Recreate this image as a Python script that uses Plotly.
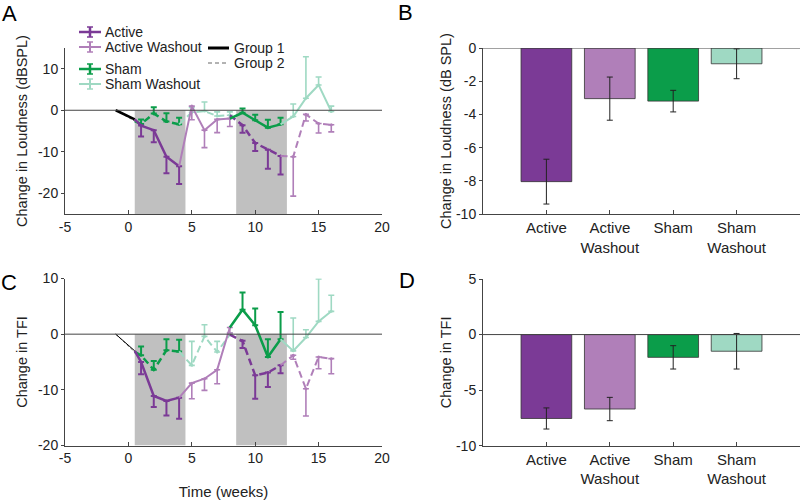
import plotly.graph_objects as go

# ---------------- data ----------------
weeks_p1 = [1, 2, 3, 4]
weeks_p2 = [5, 6, 7, 8]
weeks_p3 = [9, 10, 11, 12]
weeks_p4 = [13, 14, 15, 16]
baseline_weeks = [-1, 0.5]
treatment_periods = [[0.5, 4.5], [8.5, 12.5]]

# Panel A: change in loudness (dB SPL)
A_base_g1 = [0, -2.2]
A_base_g2 = [0, -2.6]
A_active_g1 = [-3.7, -4.8, -11.2, -13.5]
A_active_g1_err = [2.6, 2.9, 4.0, 4.3]
A_actwash_g1 = [1.0, -4.8, -2.2, -2.0]
A_actwash_g1_err = [3.3, 4.2, 3.2, 1.9]
A_sham_g1 = [-0.6, -2.4, -4.2, -3.4]
A_sham_g1_err = [1.0, 1.3, 1.9, 1.6]
A_shamwash_g1 = [-1.5, 2.9, 6.1, -0.3]
A_shamwash_g1_err = [3.0, 10.0, 1.9, 1.3]
A_sham_g2 = [-3.3, -0.8, -2.7, -3.4]
A_sham_g2_err = [1.1, 1.5, 2.0, 1.6]
A_shamwash_g2 = [-0.5, -0.2, -1.4, -1.2]
A_shamwash_g2_err = [1.2, 2.2, 1.0, 0.8]
A_active_g2 = [-3.6, -7.9, -9.5, -11.0]
A_active_g2_err = [1.8, 1.9, 4.6, 4.5]
A_actwash_g2 = [-11.2, -1.0, -3.2, -3.5]
A_actwash_g2_err = [9.5, 1.6, 2.3, 1.7]

# Panel C: change in TFI
C_base_g1 = [0, -3.0]
C_base_g2 = [0, -3.2]
C_active_g1 = [-5.0, -11.1, -12.0, -11.4]
C_active_g1_err = [2.2, 2.0, 2.6, 3.8]
C_actwash_g1 = [-8.8, -8.0, -6.4, 1.2]
C_actwash_g1_err = [2.8, 2.1, 2.5, 1.0]
C_sham_g1 = [4.4, 1.6, -4.1, -0.9]
C_sham_g1_err = [3.1, 3.0, 3.2, 4.9]
C_shamwash_g1 = [-3.0, -0.6, 2.3, 4.1]
C_shamwash_g1_err = [5.9, 1.4, 7.6, 2.9]
C_sham_g2 = [-3.8, -6.4, -2.9, -3.1]
C_sham_g2_err = [1.6, 1.6, 2.0, 2.1]
C_shamwash_g2 = [-5.6, -0.4, -3.2, -0.1]
C_shamwash_g2_err = [4.3, 2.1, 1.9, 0.3]
C_active_g2 = [-1.2, -7.4, -6.9, -5.6]
C_active_g2_err = [1.3, 4.2, 2.6, 1.4]
C_actwash_g2 = [-3.8, -9.8, -4.1, -4.4]
C_actwash_g2_err = [0.7, 4.9, 2.1, 2.7]

# Panels B and D: bar summaries
categories = ["Active", "Active<br>Washout", "Sham", "Sham<br>Washout"]
B_means = [-8.05, -3.05, -3.2, -0.95]
B_err = [1.35, 1.3, 0.65, 0.9]
D_means = [-7.55, -6.7, -2.05, -1.5]
D_err = [0.95, 1.05, 1.05, 1.6]

legend_names = ["Active", "Active Washout", "Sham", "Sham Washout"]
group_names = ["Group 1", "Group 2"]

# ---------------- style ----------------
C_ACT = "#7b3a96"
C_ACTW = "#b07fb9"
C_SHAM = "#0b9d4a"
C_SHAMW = "#9fd9c3"
colors = [C_ACT, C_ACTW, C_SHAM, C_SHAMW]
FONT = "Liberation Sans"
AX = "#444444"
DASH = "7px,4px"
W, H = 800, 500


def px(x):
    return x / W


def py(y):
    return 1 - y / H


fig = go.Figure()


def add_series(xa, ya, x_prev, y_prev, xs, ys, errs, color, dash, width, up):
    fig.add_trace(go.Scatter(
        x=[x_prev] + xs, y=[y_prev] + ys, mode="lines",
        line=dict(color=color, width=width, dash=dash),
        xaxis=xa, yaxis=ya, showlegend=False, hoverinfo="skip"))
    zeros = [0] * len(errs)
    fig.add_trace(go.Scatter(
        x=xs, y=ys, mode="markers",
        marker=dict(size=3, color=color),
        error_y=dict(type="data", symmetric=False,
                     array=errs if up else zeros,
                     arrayminus=zeros if up else errs,
                     color=color, thickness=2 if width > 2.2 else 1.6, width=3),
        xaxis=xa, yaxis=ya, showlegend=False, hoverinfo="skip"))


def panel(xa, ya, base_g1, base_g2, d, base_w):
    fig.add_trace(go.Scatter(x=baseline_weeks, y=base_g2, mode="lines",
                             line=dict(color="#666666", width=1, dash="3px,2px"),
                             xaxis=xa, yaxis=ya, showlegend=False, hoverinfo="skip"))
    fig.add_trace(go.Scatter(x=baseline_weeks, y=base_g1, mode="lines",
                             line=dict(color="black", width=base_w),
                             xaxis=xa, yaxis=ya, showlegend=False, hoverinfo="skip"))
    x0 = baseline_weeks[-1]
    # Group 2: sham -> sham washout -> active -> active washout (dashed)
    add_series(xa, ya, x0, base_g2[-1], weeks_p1, d["sham_g2"][0], d["sham_g2"][1], C_SHAM, DASH, 2.5, True)
    add_series(xa, ya, weeks_p1[-1], d["sham_g2"][0][-1], weeks_p2, d["shamwash_g2"][0], d["shamwash_g2"][1], C_SHAMW, DASH, 2, True)
    add_series(xa, ya, weeks_p2[-1], d["shamwash_g2"][0][-1], weeks_p3, d["active_g2"][0], d["active_g2"][1], C_ACT, DASH, 2.5, False)
    add_series(xa, ya, weeks_p3[-1], d["active_g2"][0][-1], weeks_p4, d["actwash_g2"][0], d["actwash_g2"][1], C_ACTW, DASH, 2, False)
    # Group 1: active -> active washout -> sham -> sham washout (solid)
    add_series(xa, ya, x0, base_g1[-1], weeks_p1, d["active_g1"][0], d["active_g1"][1], C_ACT, "solid", 2.5, False)
    add_series(xa, ya, weeks_p1[-1], d["active_g1"][0][-1], weeks_p2, d["actwash_g1"][0], d["actwash_g1"][1], C_ACTW, "solid", 2, False)
    add_series(xa, ya, weeks_p2[-1], d["actwash_g1"][0][-1], weeks_p3, d["sham_g1"][0], d["sham_g1"][1], C_SHAM, "solid", 2.5, True)
    add_series(xa, ya, weeks_p3[-1], d["sham_g1"][0][-1], weeks_p4, d["shamwash_g1"][0], d["shamwash_g1"][1], C_SHAMW, "solid", 2, True)


A_data = dict(active_g1=(A_active_g1, A_active_g1_err), actwash_g1=(A_actwash_g1, A_actwash_g1_err),
              sham_g1=(A_sham_g1, A_sham_g1_err), shamwash_g1=(A_shamwash_g1, A_shamwash_g1_err),
              sham_g2=(A_sham_g2, A_sham_g2_err), shamwash_g2=(A_shamwash_g2, A_shamwash_g2_err),
              active_g2=(A_active_g2, A_active_g2_err), actwash_g2=(A_actwash_g2, A_actwash_g2_err))
C_data = dict(active_g1=(C_active_g1, C_active_g1_err), actwash_g1=(C_actwash_g1, C_actwash_g1_err),
              sham_g1=(C_sham_g1, C_sham_g1_err), shamwash_g1=(C_shamwash_g1, C_shamwash_g1_err),
              sham_g2=(C_sham_g2, C_sham_g2_err), shamwash_g2=(C_shamwash_g2, C_shamwash_g2_err),
              active_g2=(C_active_g2, C_active_g2_err), actwash_g2=(C_actwash_g2, C_actwash_g2_err))

panel("x", "y", A_base_g1, A_base_g2, A_data, 2.5)
panel("x3", "y3", C_base_g1, C_base_g2, C_data, 1)

for xa, ya, means, errs in [("x2", "y2", B_means, B_err), ("x4", "y4", D_means, D_err)]:
    fig.add_trace(go.Bar(
        x=categories, y=means, width=0.8,
        marker=dict(color=colors, line=dict(color="#333333", width=0.8)),
        error_y=dict(type="data", array=errs, color="#222222", thickness=1, width=3),
        xaxis=xa, yaxis=ya, showlegend=False, hoverinfo="skip"))

# ---------------- layout ----------------
A_range = [-25, 15]
C_range = [-20, 10]
shapes = []
for xa, ya, rng in [("x", "y", A_range), ("x3", "y3", C_range)]:
    for a, b in treatment_periods:
        shapes.append(dict(type="rect", xref=xa, yref=ya, x0=a, x1=b, y0=0, y1=rng[0],
                           fillcolor="#c0c0c0", line=dict(width=0), layer="below"))
for xa, ya in [("x", "y"), ("x2", "y2"), ("x3", "y3"), ("x4", "y4")]:
    shapes.append(dict(type="line", xref=xa + " domain", yref=ya, x0=0, x1=1, y0=0, y1=0,
                       line=dict(color=AX, width=1), layer="above"))

TICKFONT = dict(family=FONT, size=14, color="#222")
TITLEFONT = dict(family=FONT, size=14.5, color="#222")


def xtime(domain, anchor, title=None):
    d = dict(domain=domain, anchor=anchor, range=[-5, 20], tickvals=[-5, 0, 5, 10, 15, 20],
             ticktext=[str(v) for v in [-5, 0, 5, 10, 15, 20]], showline=True, linecolor=AX,
             ticks="inside", ticklen=4, tickcolor=AX, showgrid=False, zeroline=False,
             automargin=False, tickfont=TICKFONT)
    if title:
        d["title"] = dict(text=title, font=dict(family=FONT, size=15, color="#222"), standoff=29)
    return d


def yax(domain, anchor, rng, tv, title, standoff):
    return dict(domain=domain, anchor=anchor, range=rng, tickvals=tv,
                ticktext=[str(v) for v in tv],
                showline=True, linecolor=AX, ticks="outside", ticklen=3, tickcolor=AX,
                showgrid=False, zeroline=False, automargin=False, tickfont=TICKFONT,
                title=dict(text=title, font=TITLEFONT, standoff=standoff))


def xcat(domain, anchor):
    return dict(domain=domain, anchor=anchor, range=[-1, 4], type="category", showline=True,
                linecolor=AX, ticks="inside", ticklen=4, tickcolor=AX, showgrid=False,
                zeroline=False, automargin=False, tickfont=dict(family=FONT, size=15, color="#222"))


left_dom = [px(65), px(382)]
right_dom = [px(483), 1.0]
top_dom = [py(214), py(48)]
bot_dom = [py(445.5), py(278.5)]

fig.update_layout(
    template="none",
    width=W, height=H, margin=dict(l=0, r=0, t=0, b=0, pad=0),
    paper_bgcolor="white", plot_bgcolor="rgba(0,0,0,0)",
    font=dict(family=FONT, color="#222"),
    showlegend=False, bargap=0.2,
    xaxis=xtime(left_dom, "y"),
    yaxis=yax(top_dom, "x", A_range, [-20, -10, 0, 10], "Change in Loudness (dBSPL)", 6),
    xaxis3=xtime(left_dom, "y3", "Time (weeks)"),
    yaxis3=yax(bot_dom, "x3", C_range, [-20, -10, 0, 10], "Change in TFI", 6),
    xaxis2=xcat(right_dom, "y2"),
    yaxis2=yax(top_dom, "x2", [-10, 0], [-10, -8, -6, -4, -2, 0], "Change in Loudness (dB SPL)", 0),
    xaxis4=xcat(right_dom, "y4"),
    yaxis4=yax([py(445.7), py(279)], "x4", [-10, 5], [-10, -5, 0, 5], "Change in TFI", 0),
)

ann = []
for t, x, y in [("A", 9, 13), ("B", 406, 12), ("C", 9, 282), ("D", 407, 280)]:
    ann.append(dict(text=t, x=px(x), y=py(y), xref="paper", yref="paper", showarrow=False,
                    font=dict(size=22, color="black"), xanchor="center", yanchor="middle"))

# manual legend
leg_y = [32, 47, 69, 84]
for name, col, yy in zip(legend_names, colors, leg_y):
    wdt = 2.5 if col in (C_ACT, C_SHAM) else 2
    shapes.append(dict(type="line", xref="paper", yref="paper", x0=px(79), x1=px(101), y0=py(yy), y1=py(yy),
                       line=dict(color=col, width=wdt)))
    shapes.append(dict(type="line", xref="paper", yref="paper", x0=px(90), x1=px(90), y0=py(yy - 5), y1=py(yy + 5),
                       line=dict(color=col, width=wdt)))
    for cy in (yy - 5, yy + 5):
        shapes.append(dict(type="line", xref="paper", yref="paper", x0=px(87), x1=px(93), y0=py(cy), y1=py(cy),
                           line=dict(color=col, width=1.5)))
    ann.append(dict(text=name, x=px(103), y=py(yy), xref="paper", yref="paper", showarrow=False,
                    font=dict(size=14, color="#222"), xanchor="left", yanchor="middle"))
for name, yy, dsh, wdt, col in [(group_names[0], 48, "solid", 3, "black"), (group_names[1], 63, "4px,3px", 1, "#666")]:
    shapes.append(dict(type="line", xref="paper", yref="paper", x0=px(208), x1=px(229), y0=py(yy), y1=py(yy),
                       line=dict(color=col, width=wdt, dash=dsh)))
    ann.append(dict(text=name, x=px(232), y=py(yy), xref="paper", yref="paper", showarrow=False,
                    font=dict(size=14, color="#222"), xanchor="left", yanchor="middle"))

fig.update_layout(annotations=ann, shapes=shapes)
fig.write_html("out.html", config={"displayModeBar": False},
               post_script="document.body.style.margin='0px';document.body.style.overflow='hidden';")
